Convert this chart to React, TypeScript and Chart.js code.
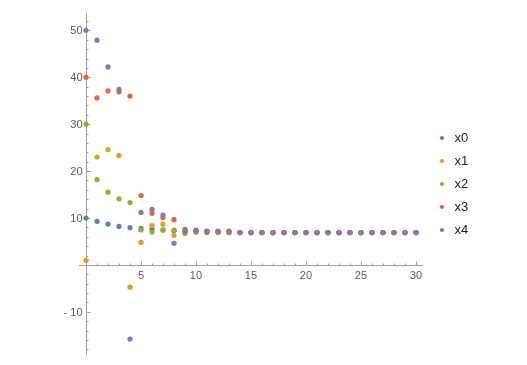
import React, { useEffect, useRef } from 'react';
import { Chart, registerables } from 'chart.js';

Chart.register(...registerables);

// ---------- data ----------
const STEPS = [0, 1, 2, 3, 4, 5, 6, 7, 8, 9, 10, 11, 12, 13, 14, 15, 16, 17, 18, 19, 20, 21, 22, 23, 24, 25, 26, 27, 28, 29, 30];

const SERIES_NAMES = ['x0', 'x1', 'x2', 'x3', 'x4'];

const X0 = [10, 9.3, 8.7, 8.2, 7.95, 7.8, 7.6, 7.5, 7.4, 7.3, 7.2, 7.1, 7.05, 7.0, 6.95, 6.9, 6.9, 6.9, 6.9, 6.9, 6.9, 6.9, 6.9, 6.9, 6.9, 6.9, 6.9, 6.9, 6.9, 6.9, 6.9];
const X1 = [1.0, 23.0, 24.6, 23.3, -4.75, 4.8, 8.4, 8.7, 6.3, 6.7, 7.0, 6.95, 6.9, 6.9, 6.9, 6.9, 6.9, 6.9, 6.9, 6.9, 6.9, 6.9, 6.9, 6.9, 6.9, 6.9, 6.9, 6.9, 6.9, 6.9, 6.9];
const X2 = [30, 18.2, 15.5, 14.1, 13.3, 7.45, 7.0, 7.4, 7.3, 6.8, 7.0, 6.9, 6.9, 6.9, 6.9, 6.9, 6.9, 6.9, 6.9, 6.9, 6.9, 6.9, 6.9, 6.9, 6.9, 6.9, 6.9, 6.9, 6.9, 6.9, 6.9];
const X3 = [40, 35.6, 37.1, 36.9, 36.0, 14.8, 11.0, 10.1, 9.65, 7.6, 7.4, 7.2, 7.2, 7.2, 6.9, 6.9, 6.9, 6.9, 6.9, 6.9, 6.9, 6.9, 6.9, 6.9, 6.9, 6.9, 6.9, 6.9, 6.9, 6.9, 6.9];
const X4 = [50, 47.9, 42.2, 37.4, -15.8, 11.2, 11.85, 10.6, 4.6, 7.2, 7.3, 7.15, 7.15, 7.05, 6.9, 6.9, 6.9, 6.9, 6.9, 6.9, 6.9, 6.9, 6.9, 6.9, 6.9, 6.9, 6.9, 6.9, 6.9, 6.9, 6.9];

const X_TICKS = [5, 10, 15, 20, 25, 30];
const Y_TICKS = [-10, 10, 20, 30, 40, 50];

// ---------- style ----------
const COLORS = ['#5E81B5', '#E19C24', '#8FB032', '#EB6235', '#8778B3'];
const FONT = "'Liberation Sans', Arial, sans-serif";
const AXIS_COLOR = '#a0a0a0';
const LABEL_COLOR = '#5a5a5a';
const X_VIEW = [-0.636, 30.91];
const Y_VIEW = [-19.2, 53.7];
const X_AXIS_SPAN = [-0.636, 30.62];

const fmt = (v: number) => (v < 0 ? '- ' + Math.abs(v) : String(v));

const mAxes = {
  id: 'mAxes',
  beforeDatasetsDraw(chart: any) {
    const { ctx } = chart;
    const xs = chart.scales.x;
    const ys = chart.scales.y;
    const ox = Math.round(xs.getPixelForValue(0)) + 0.5;
    const oy = Math.round(ys.getPixelForValue(0)) + 0.5;
    ctx.save();
    ctx.strokeStyle = AXIS_COLOR;
    ctx.lineWidth = 1;
    ctx.beginPath();
    ctx.moveTo(xs.getPixelForValue(X_AXIS_SPAN[0]), oy);
    ctx.lineTo(xs.getPixelForValue(X_AXIS_SPAN[1]), oy);
    ctx.moveTo(ox, chart.chartArea.top);
    ctx.lineTo(ox, chart.chartArea.bottom);
    for (let v = 1; v <= 30; v++) {
      const major = X_TICKS.includes(v);
      const px = Math.round(xs.getPixelForValue(v)) + 0.5;
      ctx.moveTo(px, oy);
      ctx.lineTo(px, oy - (major ? 4 : 2));
    }
    for (let v = -18; v <= 52; v += 2) {
      if (v === 0) continue;
      const major = Y_TICKS.includes(v);
      const py = Math.round(ys.getPixelForValue(v)) + 0.5;
      ctx.moveTo(ox, py);
      ctx.lineTo(ox + (major ? 4 : 2), py);
    }
    ctx.stroke();
    ctx.fillStyle = LABEL_COLOR;
    ctx.font = `11px ${FONT}`;
    ctx.textBaseline = 'alphabetic';
    ctx.textAlign = 'center';
    X_TICKS.forEach((v) => ctx.fillText(fmt(v), xs.getPixelForValue(v), oy + 13.5));
    ctx.textAlign = 'right';
    Y_TICKS.forEach((v) => ctx.fillText(fmt(v), ox - 4, ys.getPixelForValue(v) + 4));
    ctx.restore();
  },
};

export default function App() {
  const ref = useRef<HTMLCanvasElement>(null);
  useEffect(() => {
    if (!ref.current) return;
    const all = [X0, X1, X2, X3, X4];
    const chart = new Chart(ref.current, {
      type: 'scatter',
      data: {
        datasets: all.map((vals, i) => ({
          label: SERIES_NAMES[i],
          data: STEPS.map((t, k) => ({ x: t, y: vals[k] })),
          backgroundColor: COLORS[i],
          borderColor: COLORS[i],
          borderWidth: 0,
          pointRadius: 2.6,
          pointHoverRadius: 2.6,
          pointStyle: 'circle',
          order: all.length - 1 - i,
        })),
      },
      options: {
        responsive: false,
        animation: false,
        devicePixelRatio: 1,
        layout: { padding: { left: 79, top: 13, bottom: 10, right: 48.8 } },
        scales: {
          x: { type: 'linear', display: false, min: X_VIEW[0], max: X_VIEW[1] },
          y: { type: 'linear', display: false, min: Y_VIEW[0], max: Y_VIEW[1] },
        },
        plugins: {
          legend: {
            position: 'right',
            labels: {
              usePointStyle: true,
              boxWidth: 12,
              boxHeight: 3,
              padding: 10,
              color: '#222222',
              font: { family: FONT, size: 13 },
              sort: (a: any, b: any) => a.datasetIndex - b.datasetIndex,
            },
          },
          tooltip: { enabled: false },
        },
      },
      plugins: [mAxes],
    } as any);
    return () => chart.destroy();
  }, []);
  return (
    <div style={{ position: 'fixed', left: 0, top: 0, width: 527, height: 365, background: '#fff' }}>
      <canvas ref={ref} width={527} height={365} style={{ display: 'block' }} />
    </div>
  );
}
